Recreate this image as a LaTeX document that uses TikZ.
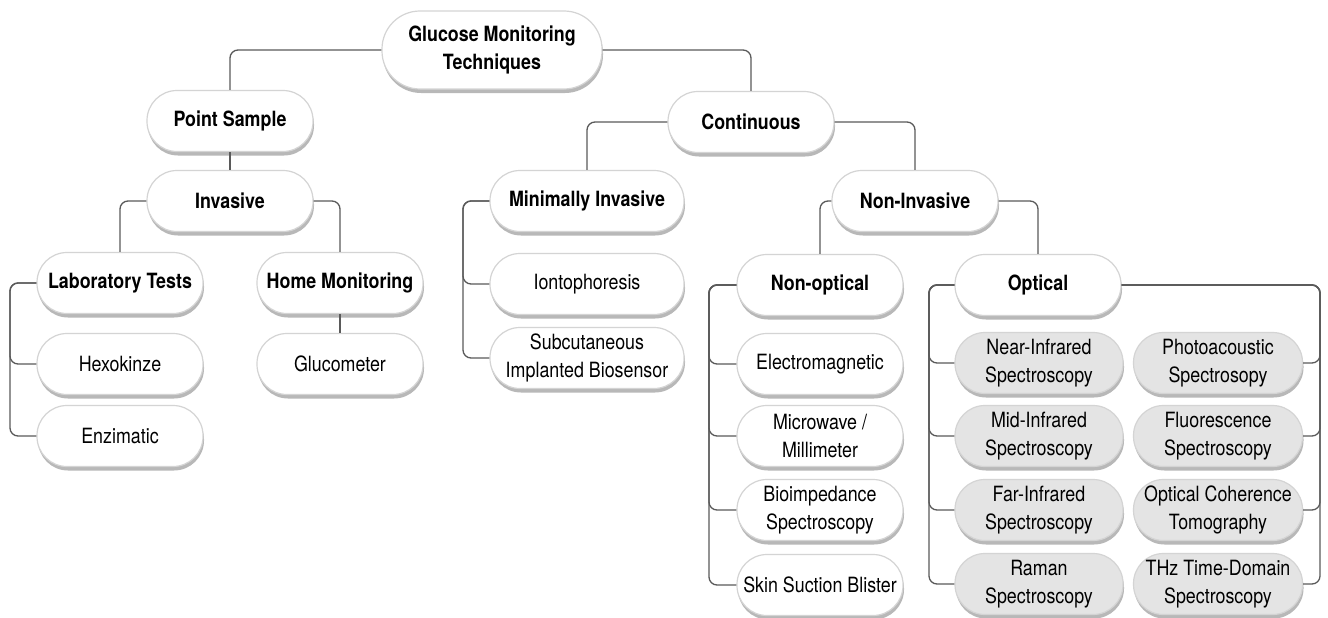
\documentclass[tikz,border=0pt]{standalone}
\usepackage{fontspec}
\setmainfont{TeX Gyre Heros}[FakeStretch=0.85]
\usetikzlibrary{shadows}
\definecolor{linec}{HTML}{5A5A5A}
\definecolor{edgec}{HTML}{D4D4D4}
\definecolor{greyfill}{HTML}{E4E4E4}
\definecolor{shadowc}{HTML}{B8B8B8}
\begin{document}
\begin{tikzpicture}[x=1pt,y=-1pt,
  box/.style={draw=edgec, line width=1.2pt, fill=white, rounded corners=30pt,
    minimum width=166pt, minimum height=61pt, inner sep=0pt, align=center,
    font=\fontsize{21}{28.5}\selectfont, text=black,
    drop shadow={shadow xshift=1pt, shadow yshift=-4pt, fill=shadowc, opacity=1}},
  head/.style={box, font=\fontsize{21}{28.5}\selectfont\bfseries},
  gbox/.style={box, fill=greyfill},
  conn/.style={draw=linec, line width=1.3pt, rounded corners=8pt}]
\fill[white] (0,0) rectangle (1328,618);
\useasboundingbox (0,0) rectangle (1328,618);

% nodes
\node[head, minimum width=220pt, minimum height=78pt, rounded corners=38pt] (root) at (492,50) {Glucose Monitoring\\Techniques};
\node[head] (pts) at (230,121) {Point Sample};
\node[head] (inv) at (230,201) {Invasive};
\node[head] (lab) at (120,283) {Laboratory Tests};
\node[box] (hex) at (120,364) {Hexokinze};
\node[box] (enz) at (120,436) {Enzimatic};
\node[head] (home) at (340,283) {Home Monitoring};
\node[box] (gluc) at (340,364) {Glucometer};

\node[head] (cont) at (751,122) {Continuous};
\node[head, minimum width=194pt] (mi) at (587,201) {Minimally Invasive};
\node[box, minimum width=194pt] (ion) at (587,284) {Iontophoresis};
\node[box, minimum width=194pt] (sub) at (587,358) {Subcutaneous\\Implanted Biosensor};

\node[head] (ni) at (915,201) {Non-Invasive};
\node[head] (nop) at (820,285) {Non-optical};
\node[box] (em) at (820,364) {Electromagnetic};
\node[box] (mw) at (820,436) {Microwave /\\Millimeter};
\node[box] (bio) at (820,510) {Bioimpedance\\Spectroscopy};
\node[box] (ssb) at (820,585) {Skin Suction Blister};

\node[head] (opt) at (1038,285) {Optical};
\node[gbox, minimum width=168pt] (nir) at (1039,363) {Near-Infrared\\Spectroscopy};
\node[gbox, minimum width=168pt] (mir) at (1039,436) {Mid-Infrared\\Spectroscopy};
\node[gbox, minimum width=168pt] (fir) at (1039,510) {Far-Infrared\\Spectroscopy};
\node[gbox, minimum width=168pt] (ram) at (1039,584) {Raman\\Spectroscopy};
\node[gbox, minimum width=169pt] (pa) at (1218,363) {Photoacoustic\\Spectrosopy};
\node[gbox, minimum width=169pt] (flu) at (1218,436) {Fluorescence\\Spectroscopy};
\node[gbox, minimum width=169pt] (oct) at (1218,510) {Optical Coherence\\Tomography};
\node[gbox, minimum width=169pt] (thz) at (1218,584) {THz Time-Domain\\Spectroscopy};

% bracket x positions
\coordinate (b1) at (10,0);
\coordinate (b2) at (463,0);
\coordinate (b3) at (709,0);
\coordinate (b4) at (929,0);
\coordinate (b5) at (1320,0);

% connectors
\draw[conn] (root.west) -| (pts.north);
\draw[conn] (root.east) -| (cont.north);
\draw[conn] (pts.south) -- (inv.north);
\draw[conn] (inv.west) -| (lab.north);
\draw[conn] (inv.east) -| (home.north);
\draw[conn] (lab.west) -- (lab.west -| b1) |- (hex.west);
\draw[conn] (lab.west) -- (lab.west -| b1) |- (enz.west);
\draw[conn] (home.south) -- (gluc.north);

\draw[conn] (cont.west) -| (mi.north);
\draw[conn] (cont.east) -| (ni.north);
\draw[conn] (mi.west) -- (mi.west -| b2) |- (ion.west);
\draw[conn] (mi.west) -- (mi.west -| b2) |- (sub.west);

\draw[conn] (ni.west) -| (nop.north);
\draw[conn] (ni.east) -| (opt.north);
\draw[conn] (nop.west) -- (nop.west -| b3) |- (em.west);
\draw[conn] (nop.west) -- (nop.west -| b3) |- (mw.west);
\draw[conn] (nop.west) -- (nop.west -| b3) |- (bio.west);
\draw[conn] (nop.west) -- (nop.west -| b3) |- (ssb.west);

\draw[conn] (opt.west) -- (opt.west -| b4) |- (nir.west);
\draw[conn] (opt.west) -- (opt.west -| b4) |- (mir.west);
\draw[conn] (opt.west) -- (opt.west -| b4) |- (fir.west);
\draw[conn] (opt.west) -- (opt.west -| b4) |- (ram.west);
\draw[conn] (opt.east) -- (opt.east -| b5) |- (pa.east);
\draw[conn] (opt.east) -- (opt.east -| b5) |- (flu.east);
\draw[conn] (opt.east) -- (opt.east -| b5) |- (oct.east);
\draw[conn] (opt.east) -- (opt.east -| b5) |- (thz.east);
\end{tikzpicture}
\end{document}
